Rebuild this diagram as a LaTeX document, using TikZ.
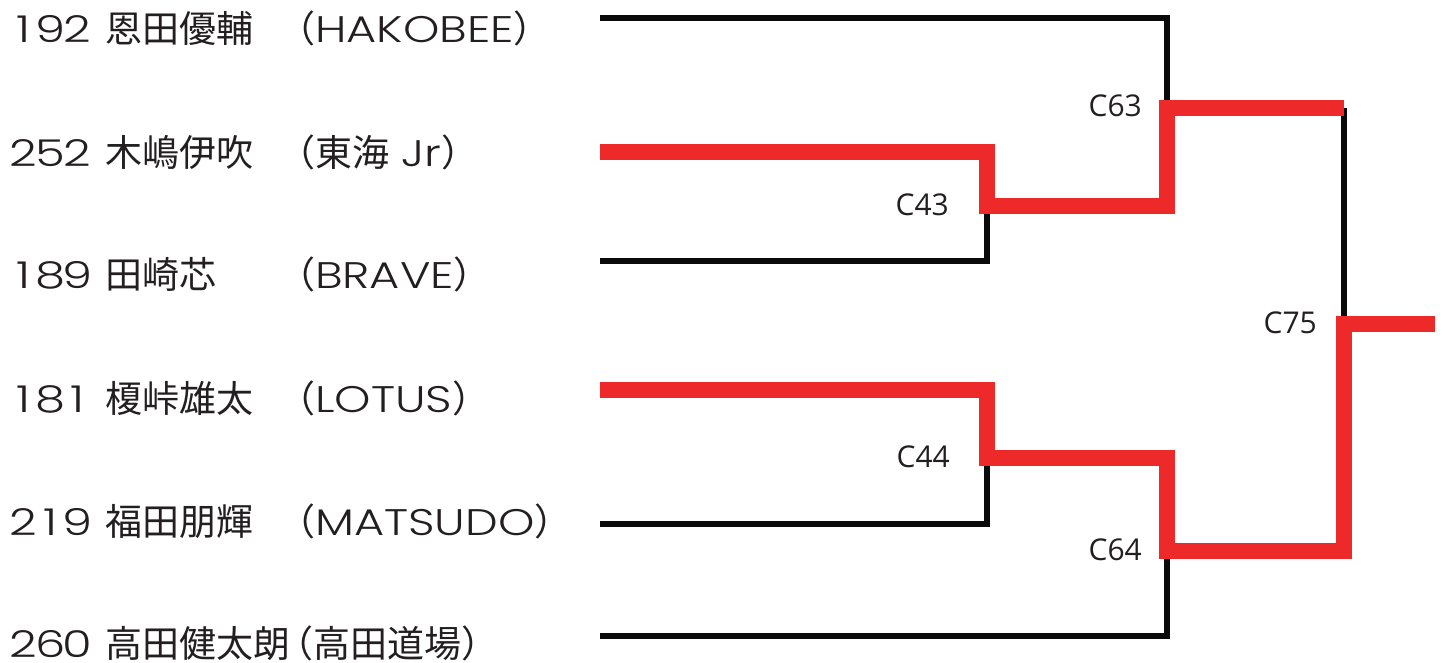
\documentclass[tikz,border=0pt]{standalone}
\usepackage{fontspec}
\newfontfamily\jp{Noto Sans CJK JP}
\newfontfamily\lat[FakeStretch=1.25]{Poppins Light}
\newfontfamily\num[FakeStretch=1.3]{Poppins Light}
\newfontfamily\lab{Open Sans}
\newcommand{\digitcell}[1]{\makebox[27pt][c]{#1}}
\newcommand{\entrynum}[3]{\makebox[95pt][l]{\num\digitcell{#1}\digitcell{#2}\digitcell{#3}}}
\definecolor{txt}{RGB}{35,31,32}
\definecolor{win}{RGB}{237,41,41}
\definecolor{blk}{RGB}{10,10,10}
\begin{document}
\begin{tikzpicture}[x=1pt,y=-1pt,
  rowtext/.style={anchor=base west,inner sep=0pt,text=txt},
  namefont/.style={font=\fontsize{37}{37}\selectfont},
  matchlabel/.style={anchor=base east,inner sep=0pt,text=txt,font=\lab\fontsize{30}{30}\selectfont},
  loseline/.style={draw=blk,line width=5.5pt,line join=miter},
  winline/.style={draw=win,line width=16pt,line join=miter}]
\useasboundingbox (0,0) rectangle (1445,663);
% entries
\node[rowtext,namefont] (n1) at (10,42.5) {\entrynum{1}{9}{2}\jp 恩田優輔};
\node[rowtext,namefont] (c1) at (278,42.5) {\jp （\lat HAKOBEE\jp ）};
\node[rowtext,namefont] (n2) at (10,166.5) {\entrynum{2}{5}{2}\jp 木嶋伊吹};
\node[rowtext,namefont] (c2) at (278,166.5) {\jp （東海\lat\ Jr\jp ）};
\node[rowtext,namefont] (n3) at (10,288) {\entrynum{1}{8}{9}\jp 田崎芯};
\node[rowtext,namefont] (c3) at (278,288) {\jp （\lat BRAVE\jp ）};
\node[rowtext,namefont] (n4) at (10,412.5) {\entrynum{1}{8}{1}\jp 榎峠雄太};
\node[rowtext,namefont] (c4) at (278,412.5) {\jp （\lat LOTUS\jp ）};
\node[rowtext,namefont] (n5) at (10,535) {\entrynum{2}{1}{9}\jp 福田朋輝};
\node[rowtext,namefont] (c5) at (278,535) {\jp （\lat MATSUDO\jp ）};
\node[rowtext,namefont] (n6) at (10,657) {\entrynum{2}{6}{0}\jp 高田健太朗};
\node[rowtext,namefont] (c6) at (276,657) {\jp （高田道場）};
% bracket points
\coordinate (p1) at (600,18);
\coordinate (p2) at (600,152);
\coordinate (p3) at (600,261);
\coordinate (p4) at (600,390);
\coordinate (p5) at (600,524);
\coordinate (p6) at (600,636);
\coordinate (m43) at (987,206);
\coordinate (m44) at (987,458);
\coordinate (m63) at (1167,108);
\coordinate (m64) at (1167,551);
\coordinate (m63r) at (1344,108);
\coordinate (m75) at (1344,324);
\coordinate (fin) at (1435,324);
% losing paths
\draw[loseline] (p1) -| (m63);
\draw[loseline] (p3) -| (m43);
\draw[loseline] (p5) -| (m44);
\draw[loseline] (p6) -| (m64);
\draw[loseline] (m63r) -- (m75);
% winning paths
\draw[winline] (p2) -| (m43) -| (m63) -- (m63r);
\draw[winline] (p4) -| (m44) -| (m64) -| (m75) -- (fin);
% match labels
\node[matchlabel] (l43) at (949,215) {C43};
\node[matchlabel] (l44) at (950,467) {C44};
\node[matchlabel] (l63) at (1142,117) {C63};
\node[matchlabel] (l64) at (1142,560) {C64};
\node[matchlabel] (l75) at (1317,333) {C75};
\end{tikzpicture}
\end{document}
